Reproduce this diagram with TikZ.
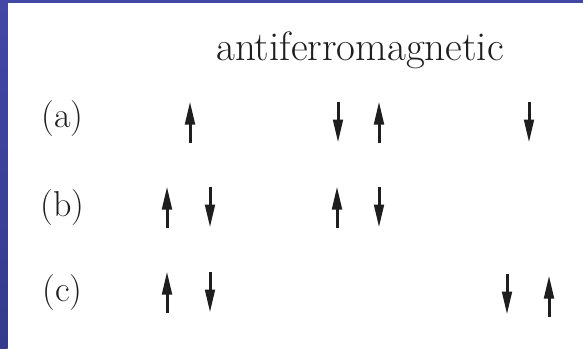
\documentclass[tikz,border=0pt]{standalone}
\usepackage{xcolor}
\usepackage{tikz}
\usetikzlibrary{arrows.meta}
\definecolor{Frame}{HTML}{4347A6}
\definecolor{FrameDark}{HTML}{363A8C}
\definecolor{Ink}{HTML}{1E1E1E}

\begin{document}
\begin{tikzpicture}[x=0.5pt,y=-0.5pt,
    lbl/.style={anchor=base,inner sep=0pt,text=Ink,font=\fontsize{18}{20}\selectfont},
    ttl/.style={anchor=base,inner sep=0pt,text=Ink,font=\fontsize{20.5}{24}\selectfont},
    spin/.style={-{Triangle[length=11.5pt,width=4.8pt]},line width=1.5pt,draw=Ink}]
    \useasboundingbox (0,0) rectangle (583,348);
    \fill[white] (0,0) rectangle (583,348);
    \shade[top color=Frame,bottom color=FrameDark] (0,0) rectangle (7.5,348);
    \fill[Frame] (0,0) rectangle (583,3);
    \node[ttl] (title) at (360,60) {antiferromagnetic};
    \node[lbl] (la) at (62.5,127) {(a)};
    \node[lbl] (lb) at (62.5,216) {(b)};
    \node[lbl] (lc) at (62.5,301) {(c)};
    % spins: x / centre y / direction (1 up, -1 down)
    \foreach \x/\yc/\s in {190/122/1, 338/122/-1, 379/122/1, 529/122/-1,
                           167/207/1, 210/207/-1, 337/207/1, 379/207/-1,
                           167/292/1, 210/292/-1, 507/294/-1, 549/296/1}
      \draw[spin] (\x,\yc+20.5*\s) -- (\x,\yc-20.5*\s);
  \end{tikzpicture}
\end{document}
